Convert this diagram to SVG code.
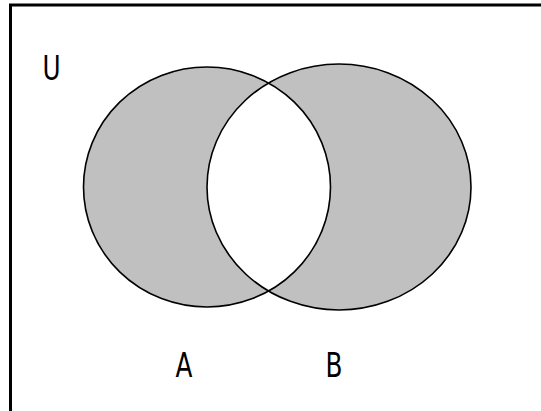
<svg xmlns="http://www.w3.org/2000/svg" width="541" height="411" viewBox="0 0 541 411">
  <style>
    .set { fill: #C0C0C0; }
    .outline { fill: none; stroke: #000; stroke-width: 1.6; }
    .lbl { font-family: "DejaVu Sans", "Liberation Sans", sans-serif; font-size: 33px; fill: #000; text-anchor: middle; }
  </style>
  <defs>
    <clipPath id="clipA">
      <ellipse cx="207" cy="187" rx="123.5" ry="120"/>
    </clipPath>
  </defs>
  <rect width="541" height="411" fill="#fff"/>
  <g id="universe">
    <path d="M10.5 411 V5 H541" fill="none" stroke="#000" stroke-width="3"/>
    <text class="lbl" transform="translate(51.5,80) scale(0.75,1)">U</text>
  </g>
  <g id="setA">
    <ellipse class="set" cx="207" cy="187" rx="123.5" ry="120"/>
  </g>
  <g id="setB">
    <ellipse class="set" cx="339" cy="187" rx="132" ry="123"/>
  </g>
  <g id="intersection">
    <ellipse cx="339" cy="187" rx="132" ry="123" fill="#fff" clip-path="url(#clipA)"/>
  </g>
  <g id="outlines">
    <ellipse class="outline" cx="207" cy="187" rx="123.5" ry="120"/>
    <ellipse class="outline" cx="339" cy="187" rx="132" ry="123"/>
  </g>
  <g id="labelA">
    <text class="lbl" transform="translate(184,377) scale(0.75,1)">A</text>
  </g>
  <g id="labelB">
    <text class="lbl" transform="translate(334,377) scale(0.75,1)">B</text>
  </g>
  <g id="connectors"/>
</svg>
